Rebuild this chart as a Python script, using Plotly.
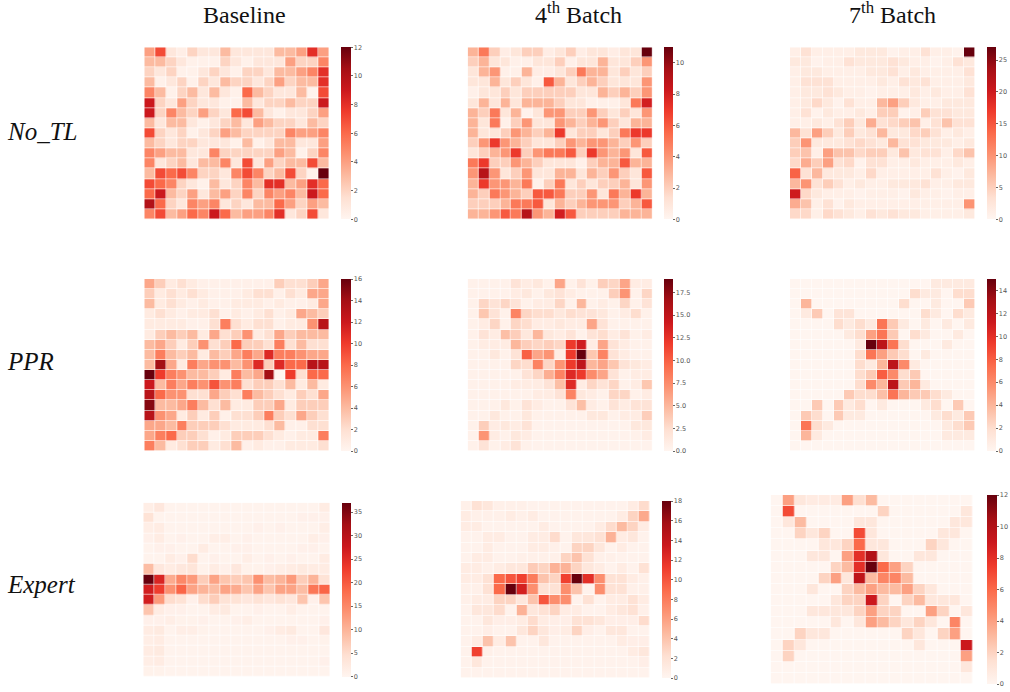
import plotly.graph_objects as go

col_titles = ["Baseline", "4<sup>th</sup> Batch", "7<sup>th</sup> Batch"]
row_titles = ["No_TL", "PPR", "Expert"]

no_tl_baseline = [
 [4,7,1,.5,2,1,1,3,1,1,1,1,3,3,4,8,4],
 [3,3,2,1,.3,.3,.3,2,1,.3,1,1,1,4,2,2,5],
 [2,1,2,.3,.3,1,2,1,.3,2,2,1,3,3,4,5,8],
 [3,.3,1,2,.3,2,1,3,2,2,1,2,4,2,3,3,8],
 [5,3,.3,2,3,1,3,1,.3,6,3,2,1,1,3,.2,7],
 [9,2,1,4,2,1,1,.3,.3,3,1,2,2,3,2,2,9],
 [9,2,5,3,2,4,2,1,6,7,3,1,.3,1,1,2,4],
 [3,1,3,3,1,.3,1,2,3,1,4,3,2,2,1,3,2],
 [7,2,1,2,.3,1,2,4,3,2,2,2,2,5,4,4,5],
 [3,2,1,2,2,1,1,1,.3,3,.3,1,3,3,1,1,4],
 [5,4,3,3,1,1,5,2,2,2,2,2,4,3,.3,2,5],
 [5,1,2,3,1,3,3,5,1,7,1,4,2,3,3,7,3],
 [3,7,6,7,5,2,2,1,5,7,5,2,3,7,2,.3,12],
 [7,6,5,2,1,.3,3,1,2,5,3,8,8,3,4,8,6],
 [6,9,3,2,4,1,3,4,2,5,2,5,4,5,3,9,6],
 [10,6,2,1,5,4,5,1,2,1,3,3,6,4,2,4,3],
 [5,7,3,4,6,5,9,6,3,4,4,5,8,1,2,7,1],
]
no_tl_batch4 = [
 [3,5,2,.5,1,2,2,.5,1,2,.5,1,1,.5,1,1,11],
 [2,3,1,1,.3,.3,1,1,2,.3,1,1,3,1,1,2,4],
 [1,3,4,.3,.3,3,.5,.5,1,2,5,3,3,1,2,1,2],
 [1,1,3,1,2,1,.3,6,3,1,2,3,2,1,1,1,4],
 [.3,1,1,2,1,2,2,2,2,2,1,1,3,2,3,2,4],
 [1,3,1,3,1,3,3,3,2,1,1,.3,.3,.3,1,5,8],
 [3,2,5,1,3,.2,1,4,4,2,2,4,2,1,2,1,4],
 [3,1,5,.3,2,4,1,1,4,3,2,3,4,2,1,3,3],
 [3,1,1,2,4,3,2,3,7,1,2,2,1,2,5,7,7],
 [2,4,7,4,3,2,1,1,2,4,3,4,4,3,2,4,2],
 [1,2,3,4,7,2,4,5,5,6,2,7,4,3,4,1,6],
 [5,7,2,2,4,3,2,1,1,1,.3,2,3,3,6,3,3],
 [4,9,4,1,2,4,1,1,3,3,1,3,2,4,2,1,6],
 [3,7,4,4,3,5,.3,2,5,1,2,1,2,2,3,1,4],
 [3,2,5,4,3,2,6,6,5,2,2,4,1,5,3,7,3],
 [2,2,2,3,5,5,6,1,3,2,3,4,4,4,2,3,6],
 [3,3,4,6,5,9,4,3,8,6,2,2,2,2,3,3,3],
]
no_tl_batch7 = [
 [1,3,1,1,1,1,2,2,2,.5,1,1,3,1,1,.5,27],
 [2,2,.5,1,1,3,2,2,2,3,2,1,1,.5,1,3,2],
 [1,2,2,1,1,1,1,2,2,3,1,2,1,1,1,1,3],
 [1,3,3,3,1,1,1,1,2,1,3,2,3,1,1,1,2],
 [1,2,2,3,2,1,1,.5,1,1,1,2,1,2,1,1,3],
 [1,2,4,2,.5,3,1,1,7,9,5,2,1,1,2,2,2],
 [1,3,.5,2,1,1,2,1,5,5,.5,1,5,3,3,2,2],
 [1,1,2,1,3,5,2,8,3,4,5,6,1,3,6,3,3],
 [7,3,9,5,2,5,2,3,7,2,2,4,5,3,1,2,1],
 [5,10,2,2,2,3,4,3,2,7,3,3,2,2,2,1,2],
 [5,6,1,9,6,6,4,5,5,2,6,2,3,3,1,4,6],
 [4,8,5,9,3,4,.5,3,3,1,1,2,1,1,1,2,1],
 [14,3,7,2,2,2,1,4,1,1,1,1,1,3,1,.5,2],
 [7,10,3,5,3,1,2,1,1,2,2,2,3,1,1,2,2],
 [20,4,2,1,1,1,.5,1,1,1,.5,2,1,1,.5,1,1],
 [8,6,1,3,.5,2,1,1,1,1,1,1,1,1,1,1,10],
 [4,4,1,4,3,2,1,3,2,3,2,2,1,1,1,1,2],
]
ppr_baseline = [
 [5,3,1,2,1,.5,.5,.5,.5,.5,.5,.5,3,2,2,3,5],
 [3,1,2,1,2,1,.5,.5,.5,1,2,2,.5,2,1,5,5],
 [4,1,2,1,.5,1,.5,.5,1,1,1,.5,1,.5,.5,1,5],
 [1,2,1,.5,1,1,2,.5,1,.5,1,2,.5,1,5,4,3],
 [1,1,1,1,.5,.5,2,7,2,1,2,2,.5,1,1,6,13],
 [1,3,4,3,4,1,5,2,3,6,1,2,5,3,4,4,4],
 [4,5,3,1,3,6,2,3,8,3,3,2,7,2,4,2,2],
 [4,7,4,3,4,1,4,3,5,7,5,11,7,7,6,5,5],
 [4,14,5,1,7,5,6,6,4,6,11,3,11,8,8,13,13],
 [16,10,7,6,4,4,3,1,7,4,5,14,0,10,2,8,8],
 [12,4,7,5,7,6,9,6,7,2,3,3,2,4,1,4,1],
 [13,8,6,6,2,2,5,3,2,7,4,3,2,1,3,2,5],
 [15,4,4,5,7,4,2,4,1,1,3,3,5,1,3,3,3],
 [13,6,5,1,3,1,3,.5,2,2,3,7,3,2,5,3,2],
 [5,5,4,7,3,3,3,2,1,1,1,2,4,.5,.5,2,2],
 [5,7,8,3,3,2,.5,1,3,3,3,2,1,.5,1,1,7],
 [7,4,1,2,3,3,1,2,4,.5,1,.5,.5,1,1,1,2],
]
ppr_batch4 = [
 [.5,.5,.5,.5,2,1,1.5,.5,6,.5,2,.5,3.5,3,6,1,1],
 [.5,.5,.5,.5,1,1.5,.5,1.5,2,1,.5,.5,.5,3.5,7,.5,3],
 [.5,3,2,3,2,.5,1,1,3,.5,5,.5,1,.5,3,.5,2],
 [.5,4,2,.5,8,3,2.5,2.5,1.5,2.5,2,2,1.5,.5,1,2.5,.5],
 [.5,1,3,.5,3,2.5,1,1,1.5,1,1,6,2,.5,.5,.5,.5],
 [.5,2,1,4.5,3.5,1.5,5,1.5,1,2,.5,2,2.5,1,2,.5,1],
 [.5,1,1,1,5,3.5,3,3.5,3,12,14,1,6,2,1,.5,.5],
 [.5,.5,1.5,.5,2,10,6,7,1,12,19,4,8,2,1,.5,.5],
 [.5,.5,.5,.5,3,2.5,8,3,7,12,15,5,6,4,2,1.5,1],
 [.5,.5,.5,.5,.5,2,3,5.5,8,13,12,7.5,6,2,.5,1,1],
 [.5,.5,.5,.5,1,1,1,2,4.5,13,1,3,2,3,.5,1,4],
 [.5,.5,.5,.5,.5,.5,1,1,2,8,1.5,1,.5,3,3,.5,1],
 [.5,.5,.5,1.5,.5,2,1,.5,.5,2,4.5,1,.5,2,1,2,2],
 [.5,.5,1.5,.5,.5,1.5,.5,.5,.5,.5,.5,1.5,1.5,.5,1,1,3.5],
 [.5,3.5,1,1.5,1,2,.3,.3,.3,.3,.3,.3,.3,.3,.3,1.5,1.5],
 [.5,7,1,.5,1.5,1,.3,.3,.3,.3,.3,.3,.3,.3,.3,.5,1],
 [.5,2,.5,1,2,.5,.3,.3,.3,.3,.3,.3,.3,.3,.3,.3,.3],
]
ppr_batch7 = [
 [0,0,0,0,0,0,0,0,0,0,0,0,0,1,1,1,1],
 [0,0,0,0,0,0,0,0,0,0,0,2,1,1,0,2,2],
 [0,4,0,0,0,0,0,0,0,0,2,0,0,1,0,0,3],
 [0,1,3,0,1.5,1.5,0,0,0,0,0,0,2,1,0,2,1],
 [0,0,0,0,2,1,2,1,7,3,1,0,1,0,1,0,1],
 [0,0,0,0,0,1,2,5,7,3,0,2,1,0,0,1,0],
 [0,0,0,0,0,0,1,15,12,7,2,0,0,0,1,0,0],
 [0,0,0,0,0,0,2,7,5,3,2,0,1,0,0,0,0],
 [0,0,0,0,0,0,2,1,4,12,6,1,0,0,0,0,0],
 [0,0,0,0,0,0,2,3,8,6,2,3,0,0,0,0,0],
 [0,0,0,0,0,0,2,6,4,12,3,4,1,0,0,0,0],
 [0,0,0,0,0,3,2,2,3.5,7,4,3,3,2,1,0,0],
 [0,0,3,0,3,1,2,0,1,0,0,0,1,2,0,3,0],
 [0,3,2,0,3,1,1,0,0,0,0,0,0,1,2,1,3],
 [0,7,2,1,0,0,0,0,0,0,0,0,0,0,1,2,3],
 [0,4,1,0,0,0,0,0,0,0,0,0,0,0,1,1,1],
 [0,0,0,0,0,0,0,0,0,0,0,0,0,0,0,0,0],
]
expert_baseline = [
 [1.5,3,.5,.5,.5,.5,.5,.5,.5,.5,.5,.5,.5,.5,.5,.5,2],
 [4,.5,.5,.5,.5,.5,.5,.5,.5,.5,.5,.5,.5,.5,1,1,1],
 [1.5,2,.5,.5,.5,.5,.5,.5,.5,.5,1,.5,1,.5,.5,.5,1.5],
 [1,2,.5,1,.5,.5,1.5,1.5,.5,1,.5,.5,.5,.5,.5,1.5,1],
 [.5,1,1,.5,.5,2,.5,.5,1,1,.5,.5,.5,.5,1,1,.5],
 [.5,.5,2,1,5,.5,1,.5,.5,1.5,.5,1,.5,1,.5,.5,2],
 [9,3,2,3,3.5,.7,2,1,3,.7,.7,1,1.5,2,2.5,2,2],
 [37,26,11,15,13,7,12,8,7,8,14,9,10,13,7,10,4],
 [27,23,14,19,12,10,9,12,11,8,12,8,12,12,9,17,19],
 [27,13,5,4,1,5,7,4,4,3,4,3,4,3,8,1,8],
 [8,2,1,1,.5,.5,2,2.5,.5,.5,1,.5,.5,1.5,.5,.5,.5],
 [1,1,1.5,.7,.7,1,.5,.5,1,1.5,.5,.5,.5,.5,.5,.5,1],
 [2,2.5,.5,1.5,1.5,.7,.5,.5,.5,.5,.5,1,2,2.5,.5,.5,3],
 [1.5,2,.5,.5,.5,.5,.5,.5,.5,.5,.5,.5,.5,1,1,.5,.7],
 [2,2.5,.5,.5,.5,.5,.5,.5,.5,.5,.5,.5,.5,.5,.5,.5,.5],
 [1.5,2,.5,.5,.5,.5,.5,.5,.5,.5,.5,.5,.5,.5,.5,.5,1],
 [.7,.7,.5,.5,.5,.5,.5,.5,.5,.5,.5,.5,.5,.5,.5,.5,.5],
]
expert_batch4 = [
 [.5,2,1.5,.5,.5,.5,.3,.3,.3,.3,.3,.3,.3,.3,.3,1,2.5],
 [1,.5,.5,.5,1,.5,1,.3,.3,.3,.3,.3,.3,.3,1,3,5.5],
 [1,1,.3,.3,.3,.3,.3,1,.3,.3,.3,.3,1,2.5,4.5,3,1],
 [.3,.3,1,1,.3,.3,1,1,2.5,.3,1.5,1.5,2,5,1,1.5,.3],
 [.3,.3,1,.3,.3,.3,1,1,.5,.3,3,3,1.5,.3,1,.3,.3],
 [.3,1,1,.3,.3,.5,.5,.5,.5,3,4,2,.5,.5,.3,.3,.3],
 [1,1,.5,1,1.5,1.5,3.5,3,5,5,3,1.5,1,.3,1,.3,2],
 [1,1,2,9,10,11,8,4,3,11,18,12,7,2,2,1,.5],
 [.5,.5,2,9,18,13,7,2,2,7,4,.3,7,2,2,.5,.5],
 [.5,1,1,3,3,1.5,4,10,7,7,.3,2,.3,1,1,2,1],
 [.3,1.5,1.5,2.5,.3,5,1.5,2,3,1,1,.3,.3,1,1.5,2,.5],
 [.3,.3,1.5,.7,.7,1,2.5,1,.7,.7,2,2,1.5,.7,.7,.7,2.5],
 [.3,.3,.7,.3,.3,1.5,3,1.5,.7,1,3,.7,.3,1.5,1.5,.3,.3],
 [.3,1,4,1,4,.3,.3,1.5,.3,.3,.3,.3,.3,.3,1,.7,.7],
 [.3,11,.5,.3,.3,.3,.3,.3,.3,.3,.3,.3,.3,.3,.3,1,1.5],
 [.3,1.5,.3,.3,.3,.3,.3,.3,.3,.3,.3,.3,.3,.3,.3,.3,.7],
 [.3,.3,.3,.3,.3,.3,.3,.3,.3,.3,.3,.3,.3,.3,.3,.3,.3],
]
expert_batch7 = [
 [0,4,1,.7,.7,.7,4,1.5,3,0,0,0,0,0,0,0,0],
 [0,7,0,0,0,0,0,0,0,2,0,0,0,0,0,0,1],
 [0,1,3,0,0,0,0,1,1,0,0,0,0,0,0,1,1],
 [0,0,2,1,2,0,0,7,1,0,0,0,0,0,1,1,0],
 [0,0,0,0,1,1,2,6,1,1,0,0,0,2,1,0,0],
 [0,0,0,1,1,0,4,8,10,1,0,0,1,1,0,0,0],
 [0,0,0,0,0,2,3,8,12,6,4,2,0,0,0,0,0],
 [0,0,0,0,2,4,1,9.5,3,5,5,3,0,0,0,0,0],
 [0,0,0,1,0,0,2,3,4,3,3,4,2,1,0,0,0],
 [0,0,0,0,0,1,2,2,9,2,0,2,3,1,1,1,0],
 [0,0,0,1,1,1,1,2,4,2,2,0,0,4,2,0,1],
 [0,0,0,0,0,1,0,1,4,3,2,1,2,1,0,5,0],
 [0,0,2,1,1,0,0,0,0,0,0,2,1,0,2,4,0],
 [0,2,1,0,0,0,0,0,0,0,0,0,1,0,0,0,9],
 [0,2,0,0,0,0,0,0,0,0,0,0,0,0,0,0,4],
 [0,0,0,0,0,0,0,0,0,0,0,0,0,0,0,0,1],
 [0,0,0,0,0,0,0,0,0,0,0,0,0,0,0,0,0],
]

panel_values = [no_tl_baseline, no_tl_batch4, no_tl_batch7,
                ppr_baseline, ppr_batch4, ppr_batch7,
                expert_baseline, expert_batch4, expert_batch7]
panel_vmax = [12, 11, 27, 16, 19, 15, 37, 18, 12]
panel_tick_step = [2, 2, 5, 2, 2.5, 2, 5, 2, 2]

# left, right, top, bottom of each heatmap, then colourbar left, right (pixels)
boxes = [
 (144.3, 329, 47.3, 219.3, 341, 350.5),
 (467.7, 652.3, 47.3, 219.3, 664, 672.8),
 (790, 975, 47.3, 219.3, 986.7, 995.7),
 (144.3, 329, 279, 451, 341, 350.5),
 (467.7, 652.3, 279, 451, 664, 673),
 (790, 975, 279, 451, 986.7, 995.7),
 (143.3, 330, 502.7, 676.7, 342, 350.7),
 (460.7, 650, 501, 678, 662.3, 671),
 (770.7, 973, 495, 684, 987, 996.7),
]

W, H = 1010, 692
REDS = [[0, "rgb(255,245,240)"], [.125, "rgb(254,224,210)"], [.25, "rgb(252,187,161)"],
        [.375, "rgb(252,146,114)"], [.5, "rgb(251,106,74)"], [.625, "rgb(239,59,44)"],
        [.75, "rgb(203,24,29)"], [.875, "rgb(165,15,21)"], [1, "rgb(103,0,13)"]]

fig = go.Figure()
layout_axes = {}
for i, (z, vmax, step, box) in enumerate(zip(panel_values, panel_vmax, panel_tick_step, boxes)):
    l, r, t, b, cl, cr = box
    n = i + 1
    xa, ya = f"x{n}", f"y{n}"
    tickvals = [k * step for k in range(int(vmax // step) + 1)]
    ticktext = [(f"{v:.1f}" if step % 1 else f"{int(v)}") for v in tickvals]
    fig.add_trace(go.Heatmap(
        z=z, xaxis=xa, yaxis=ya, zmin=0, zmax=vmax, colorscale=REDS,
        xgap=0.6, ygap=0.6,
        colorbar=dict(
            x=cl / W, xanchor="left", xpad=0, thickness=cr - cl, thicknessmode="pixels",
            y=1 - b / H, yanchor="bottom", ypad=0, len=(b - t) / H, lenmode="fraction",
            outlinewidth=0, tickmode="array", tickvals=tickvals, ticktext=ticktext,
            ticks="outside", ticklen=2, tickwidth=0.6, tickcolor="#666",
            tickfont=dict(family="DejaVu Sans", size=6.5, color="#555"),
        ),
    ))
    layout_axes[f"xaxis{n}"] = dict(domain=[l / W, r / W], anchor=ya, visible=False,
                                    range=[-0.5, 16.5])
    layout_axes[f"yaxis{n}"] = dict(domain=[1 - b / H, 1 - t / H], anchor=xa, visible=False,
                                    range=[16.5, -0.5])

annotations = []
for title, x in zip(col_titles, [244, 578, 892]):
    annotations.append(dict(text=title, x=x / W, y=1 - 30 / H, xref="paper", yref="paper",
                            xanchor="center", yanchor="bottom", showarrow=False,
                            font=dict(family="Liberation Serif", size=24, color="#111")))
for title, y in zip(row_titles, [132, 361, 584]):
    annotations.append(dict(text=f"<i>{title}</i>", x=5 / W, y=1 - y / H, xref="paper", yref="paper",
                            xanchor="left", yanchor="middle", showarrow=False,
                            font=dict(family="Liberation Serif", size=25, color="#111")))

fig.update_layout(width=W, height=H, autosize=False, margin=dict(l=0, r=0, t=0, b=0, pad=0),
                  paper_bgcolor="white", plot_bgcolor="white", annotations=annotations,
                  **layout_axes)

fig.write_html("out.html", config={"displayModeBar": False},
               post_script="document.body.style.margin='0';")
